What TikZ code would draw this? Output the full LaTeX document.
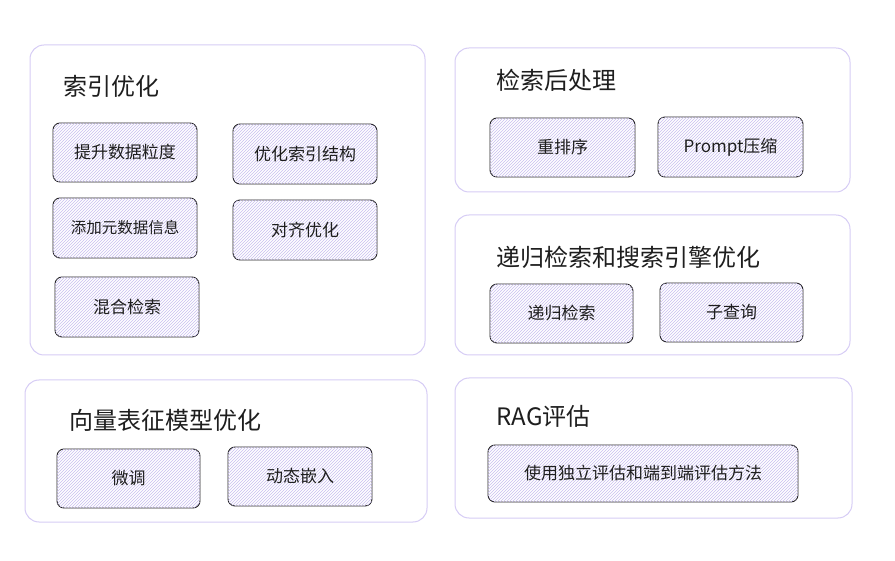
\documentclass[tikz,border=0pt]{standalone}
\usepackage{fontspec}
\setmainfont{Noto Sans CJK SC}
\usetikzlibrary{patterns}
\definecolor{outer}{HTML}{D6CCF5}
\definecolor{hatch}{HTML}{C9BEF0}
\definecolor{ink}{HTML}{1E1E1E}
\begin{document}
\begin{tikzpicture}[x=1pt,y=-1pt,
  group/.style={draw=outer,line width=1pt,rounded corners=14pt,fill=white},
  item/.style={draw=ink,line width=0.9pt,rounded corners=7pt,fill=white,
    postaction={pattern=north east lines,pattern color=hatch}},
  label/.style={font=\fontsize{17}{19}\selectfont,text=ink},
  title/.style={anchor=west,font=\fontsize{24}{27}\selectfont,text=ink}]
\useasboundingbox (0,0) rectangle (895,561);
\path[group] (30,45) rectangle (425,355);
\path[group] (455,48) rectangle (850,192);
\path[group] (455,215) rectangle (850,355);
\path[group] (25,380) rectangle (427,522);
\path[group] (455,378) rectangle (852,518);
\node[title] (t1) at (60,86) {索引优化};
\node[title] (t2) at (493,80) {检索后处理};
\node[title] (t3) at (493,257) {递归检索和搜索引擎优化};
\node[title] (t4) at (66,420) {向量表征模型优化};
\node[title] (t5) at (493,416) {RAG评估};
\newcommand{\itm}[6]{\path[item] (#2,#3) rectangle (#4,#5);
  \node[label] (#1) at ({(#2+#4)/2},{(#3+#5)/2}) {#6};}
\itm{a}{53}{123}{197}{182}{提升数据粒度}
\itm{b}{233}{124}{377}{184}{优化索引结构}
\itm{c}{53}{198}{197}{258}{\fontsize{15.5}{17}\selectfont 添加元数据信息}
\itm{d}{233}{200}{377}{260}{对齐优化}
\itm{e}{55}{277}{199}{337}{混合检索}
\itm{f}{490}{118}{635}{177}{重排序}
\itm{g}{658}{117}{803}{177}{Prompt压缩}
\itm{h}{490}{284}{633}{343}{递归检索}
\itm{i}{660}{283}{803}{342}{子查询}
\itm{j}{57}{449}{200}{508}{微调}
\itm{k}{228}{447}{372}{506}{动态嵌入}
\itm{l}{488}{445}{798}{502}{使用独立评估和端到端评估方法}
\end{tikzpicture}
\end{document}
